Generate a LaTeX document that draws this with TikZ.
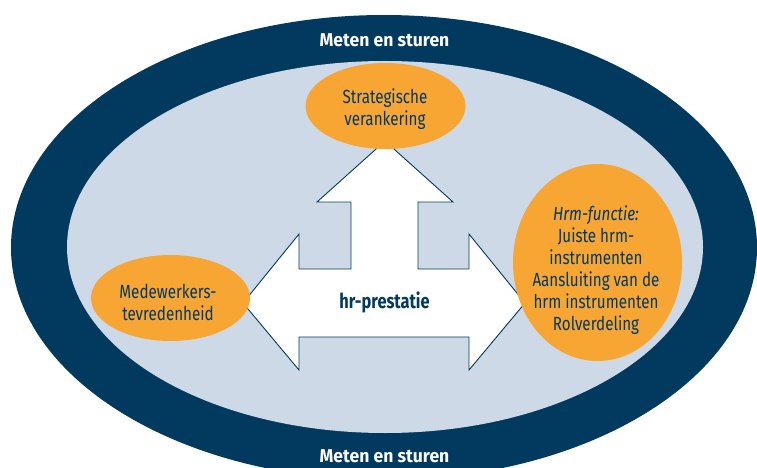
\documentclass[tikz,border=0pt]{standalone}
\usepackage{fontspec}
\setmainfont{Fira Sans}[FakeStretch=0.8]
\newfontfamily\ringfont{Fira Sans}[FakeStretch=0.95]
\usetikzlibrary{shapes.geometric}
\definecolor{navy}{HTML}{02395F}
\definecolor{lightblue}{HTML}{CDD9E6}
\definecolor{orangefill}{HTML}{F7A533}
\tikzset{
  ell/.style={ellipse, inner sep=0pt, draw=none},
  outerell/.style={ell, fill=navy},
  innerell/.style={ell, fill=lightblue},
  orangeell/.style={ell, fill=orangefill},
  ringtext/.style={text=white, font=\ringfont\fontsize{18.5}{22}\selectfont\bfseries, anchor=base, inner sep=0pt},
  ovaltext/.style={text=navy, font=\fontsize{19}{22}\selectfont, align=center, inner sep=0pt},
  arrowshape/.style={fill=white, draw=navy, line width=0.9pt, line join=miter},
  centertext/.style={text=navy, font=\fontsize{20.5}{22}\selectfont\bfseries, anchor=base, inner sep=0pt}
}
\begin{document}
\begin{tikzpicture}[x=1pt, y=-1pt]
\useasboundingbox (0,0) rectangle (757,468);
\begin{scope}
\clip (0,0) rectangle (757,468);
\node[outerell, minimum width=746pt, minimum height=465pt] (outer) at (384,247.5) {};
\node[innerell, minimum width=636pt, minimum height=372pt] (inner) at (385,247) {};
\end{scope}
\node[ringtext] (toptext) at (384.5,47) {Meten en sturen};
\node[ringtext] (bottomtext) at (384.5,462) {Meten en sturen};
% arrow
\draw[arrowshape] (385,141) -- (453,202) -- (418,202) -- (418,269) -- (469,269) -- (469,234)
  -- (525,303) -- (469,370) -- (469,337) -- (299,337) -- (299,370) -- (243,303)
  -- (299,234) -- (299,269) -- (351,269) -- (351,202) -- (317,202) -- cycle;
\node[centertext] (hr) at (384.5,308) {hr-prestatie};
% orange ovals
\node[orangeell, minimum width=160pt, minimum height=86pt] (strat) at (385.5,106) {};
\node[orangeell, minimum width=159pt, minimum height=86pt] (mede) at (170.5,298) {};
\node[orangeell, minimum width=169pt, minimum height=197pt] (hrm) at (597.5,262.5) {};
\node[ovaltext] (strattext) at (385,109) {Strategische\\verankering};
\node[ovaltext] (medetext) at (168,302) {Medewerkers-\\tevredenheid};
\node[ovaltext] (hrmtext) at (596,270) {\itshape Hrm-functie:\\Juiste hrm-\\instrumenten\\Aansluiting van de\\hrm instrumenten\\Rolverdeling};
\end{tikzpicture}
\end{document}
